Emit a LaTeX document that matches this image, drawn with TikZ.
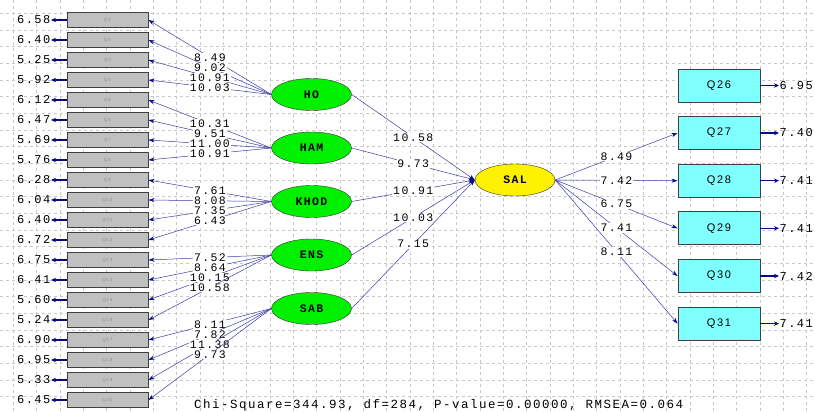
\documentclass[tikz,border=0pt]{standalone}
\usepackage{fontspec}
\newfontfamily\lisrelfont[LetterSpace=12]{Liberation Mono}
\newfontfamily\boxfont[LetterSpace=15]{Liberation Sans}
\usetikzlibrary{shapes.geometric, arrows.meta, positioning}
\definecolor{pathblue}{RGB}{60, 60, 170}
\definecolor{tipnavy}{RGB}{10, 10, 130}
\definecolor{latgreen}{RGB}{0, 240, 0}
\definecolor{boxgray}{RGB}{192, 192, 192}
\definecolor{boxcyan}{RGB}{128, 255, 255}
\definecolor{gridgray}{RGB}{200, 200, 200}

\tikzset{
  obsbox/.style={draw=black!75, line width=0.9pt, fill=boxgray, minimum width=81pt, minimum height=15pt, inner sep=0pt, font=\boxfont\fontsize{4.5}{5}\selectfont, text=black!45},
  depbox/.style={draw=black!75, line width=0.9pt, fill=boxcyan, minimum width=82pt, minimum height=33pt, inner sep=0pt, font=\boxfont\fontsize{11}{13}\selectfont},
  latent/.style={draw=black!80, ellipse, fill=latgreen, minimum width=80pt, minimum height=32pt, inner sep=0pt, font=\lisrelfont\bfseries\fontsize{11.5}{12}\selectfont},
  errval/.style={inner sep=0.5pt, text=black, font=\lisrelfont\fontsize{12}{13}\selectfont},
  lbl/.style={fill=white, text=black, inner sep=0.8pt, font=\lisrelfont\fontsize{11.5}{12}\selectfont},
  load/.style={pathblue, line width=0.5pt, -{Stealth[length=6pt, width=4pt, color=tipnavy]}},
  errarr/.style={tipnavy, line width=1.3pt, -{Stealth[length=5pt, width=4.5pt]}},
  gridline/.style={gridgray, line width=0.6pt, dash pattern=on 3pt off 3pt}
}

\begin{document}
\begin{tikzpicture}[x=1pt, y=-1pt]
  \fill[white] (0,0) rectangle (815,412);
  \useasboundingbox (0,0) rectangle (815,412);

  % background grid
  \foreach \gx in {0,...,34}
    \draw[gridline] ({13.33+23.33*\gx},0) -- ({13.33+23.33*\gx},412);
  \foreach \gy in {0,...,23}
    \draw[gridline] (0,{13.33+16.67*\gy}) -- (815,{13.33+16.67*\gy});

  % indicators with error values
  \foreach \i/\errv in {1/6.58, 2/6.40, 3/5.25, 4/5.92, 5/6.12, 6/6.47, 7/5.69, 8/5.76, 9/6.28, 10/6.04,
                        11/6.40, 12/6.72, 13/6.75, 14/6.41, 15/5.60, 16/5.24, 17/6.90, 18/6.95, 19/5.33, 20/6.45} {
    \node[obsbox] (q\i) at (107.5, {20*\i}) {Q\i};
    \node[errval, anchor=east] (e\i) at (51, {20*\i}) {\errv};
    \draw[errarr] (q\i) -- (e\i);
  }

  \node[latent] (ho) at (311.5, 94.5) {HO};
  \node[latent] (ham) at (311.5, 148) {HAM};
  \node[latent] (khod) at (311.5, 201.5) {KHOD};
  \node[latent] (ens) at (311.5, 255) {ENS};
  \node[latent] (sab) at (311.5, 308.5) {SAB};
  \node[latent, fill=yellow] (sal) at (515, 180) {SAL};

  \foreach \i/\y/\errv in {26/85.5/6.95, 27/133/7.40, 28/180.7/7.41, 29/228.3/7.41, 30/276/7.42, 31/323.6/7.41} {
    \node[depbox] (q\i) at (719, \y) {Q\i};
    \node[errval, anchor=west] (e\i) at (779, \y) {\errv};
    \draw[errarr] (q\i) -- (e\i);
  }

  % loadings
  \foreach \lat/\i/\val in {ho/1/8.49, ho/2/9.02, ho/3/10.91, ho/4/10.03,
                            ham/5/10.31, ham/6/9.51, ham/7/11.00, ham/8/10.91,
                            khod/9/7.61, khod/10/8.08, khod/11/7.35, khod/12/6.43,
                            ens/13/7.52, ens/14/8.64, ens/15/10.15, ens/16/10.58,
                            sab/17/8.11, sab/18/7.82, sab/19/11.38, sab/20/9.73}
    \draw[load] (\lat.west) -- node[lbl] {\val} (q\i.east);

  \foreach \lat/\val in {ho/10.58, ham/9.73, khod/10.91, ens/10.03, sab/7.15}
    \draw[load] (\lat.east) -- node[lbl] {\val} (sal.west);

  \foreach \i/\val in {27/8.49, 28/7.42, 29/6.75, 30/7.41, 31/8.11}
    \draw[load] (sal.east) -- node[lbl] {\val} (q\i.west);

  \node[anchor=west, inner sep=0pt, font=\lisrelfont\fontsize{12.5}{13}\selectfont] (fit) at (194, 405)
    {Chi-Square=344.93, df=284, P-value=0.00000, RMSEA=0.064};
\end{tikzpicture}
\end{document}
